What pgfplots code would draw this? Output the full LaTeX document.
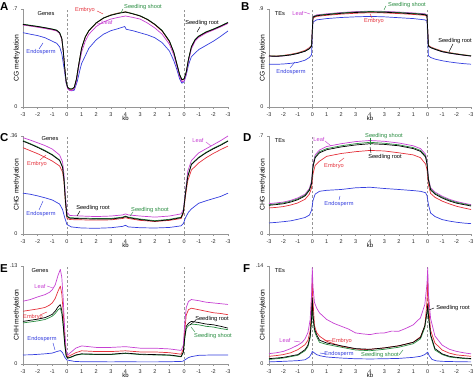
\documentclass[border=0pt]{standalone}
\usepackage{fontspec}
\setmainfont{Liberation Sans}
\usepackage{pgfplots}
\pgfplotsset{compat=1.18}
\definecolor{cEmb}{RGB}{228,48,58}
\definecolor{cLeaf}{RGB}{198,64,210}
\definecolor{cShoot}{RGB}{40,140,64}
\definecolor{cEndo}{RGB}{52,62,222}
\definecolor{axg}{RGB}{150,150,150}
\tikzset{vline/.style={axg, dash pattern=on 2.5bp off 2bp, line width=0.5bp}}
\pgfplotsset{
  panel/.style={
    scale only axis, width=205bp, height=98bp, anchor=south west,
    xmin=0, xmax=14, ymin=0,
    axis x line*=bottom, axis y line*=left,
    axis line style={axg, line width=0.5bp},
    xtick={0,...,14},
    xticklabels={-3,-2,-1,0,1,2,3,4,3,2,1,0,-1,-2,-3},
    tick style={axg, line width=0.4bp},
    major tick length=2bp, tick align=outside,
    tick label style={font=\fontsize{5.5}{6}\selectfont, text=black!85},
    xlabel={kb},
    every axis x label/.style={at={(rel axis cs:0.5,-0.118)}, anchor=center, font=\fontsize{6}{7}\selectfont},
    every axis y label/.style={at={(rel axis cs:-0.03,0.5)}, anchor=center, rotate=90, font=\fontsize{6.8}{8}\selectfont},
    every axis plot/.append style={line width=0.7bp, line join=round},
    clip=false,
  },
  rpanel/.style={panel, width=202bp, every axis y label/.style={at={(rel axis cs:-0.03,0.5)}, anchor=center, rotate=90, font=\fontsize{6.8}{8}\selectfont}},
}
\begin{document}
\begin{tikzpicture}
\path[use as bounding box] (0,0) rectangle (474bp,390bp);

% ---------------- A: CG genes
\begin{axis}[panel, at={(23bp,283bp)}, ymax=0.7, ytick={0,0.7}, yticklabels={0,.7}, ylabel={CG methylation}]
\draw[vline] (axis cs:3,0) -- (axis cs:3,0.7);
\draw[vline] (axis cs:11,0) -- (axis cs:11,0.7);
\addplot[cEndo] coordinates {(0,.531)(0.5,.52)(1,.51)(1.5,.495)(2,.47)(2.3,.455)(2.5,.43)(2.65,.38)(2.8,.28)(2.95,.17)(3.1,.125)(3.3,.115)(3.5,.12)(3.7,.18)(3.9,.27)(4,.31)(4.5,.42)(5,.48)(5.5,.52)(6,.545)(6.5,.56)(6.95,.575)(7.05,.555)(7.5,.545)(8,.53)(8.5,.515)(9,.495)(9.5,.46)(10,.40)(10.3,.33)(10.5,.27)(10.7,.20)(10.85,.17)(11,.18)(11.15,.23)(11.3,.30)(11.5,.36)(12,.41)(12.5,.44)(13,.47)(13.5,.505)(14,.543)};
\addplot[cEmb] coordinates {(0,.588)(0.5,.580)(1,.572)(1.5,.563)(2,.553)(2.3,.545)(2.5,.527)(2.65,.487)(2.75,.397)(2.85,.277)(2.95,.177)(3.05,.138)(3.2,.127)(3.35,.127)(3.5,.139)(3.65,.198)(3.8,.298)(4,.418)(4.25,.498)(4.5,.544)(5,.600)(5.5,.636)(6,.658)(6.5,.671)(7,.680)(7.5,.666)(8,.650)(8.5,.624)(9,.588)(9.5,.542)(10,.466)(10.3,.386)(10.5,.306)(10.7,.226)(10.85,.192)(11,.197)(11.15,.246)(11.3,.336)(11.5,.426)(11.75,.477)(12,.502)(12.5,.532)(13,.552)(13.5,.575)(14,.600)};
\addplot[cLeaf] coordinates {(0,.586)(0.5,.578)(1,.570)(1.5,.561)(2,.551)(2.3,.543)(2.5,.525)(2.65,.485)(2.75,.395)(2.85,.275)(2.95,.172)(3.05,.13)(3.2,.118)(3.35,.118)(3.5,.13)(3.65,.18)(3.8,.28)(4,.39)(4.25,.47)(4.5,.52)(5,.575)(5.5,.608)(6,.628)(6.5,.640)(7,.650)(7.5,.640)(8,.628)(8.5,.600)(9,.565)(9.5,.520)(10,.448)(10.3,.37)(10.5,.295)(10.7,.215)(10.85,.18)(11,.185)(11.15,.235)(11.3,.325)(11.5,.415)(11.75,.47)(12,.497)(12.5,.528)(13,.55)(13.5,.572)(14,.597)};
\addplot[cShoot] coordinates {(0,.592)(0.5,.584)(1,.576)(1.5,.567)(2,.557)(2.3,.549)(2.5,.532)(2.65,.49)(2.75,.40)(2.85,.28)(2.95,.18)(3.05,.14)(3.2,.13)(3.35,.13)(3.5,.142)(3.65,.20)(3.8,.30)(4,.42)(4.25,.50)(4.5,.547)(5,.602)(5.5,.637)(6,.657)(6.5,.670)(7,.680)(7.5,.667)(8,.652)(8.5,.627)(9,.592)(9.5,.547)(10,.472)(10.3,.392)(10.5,.312)(10.7,.232)(10.85,.197)(11,.202)(11.15,.252)(11.3,.342)(11.5,.432)(11.75,.482)(12,.507)(12.5,.537)(13,.557)(13.5,.58)(14,.605)};
\addplot[black] coordinates {(0,.590)(0.5,.582)(1,.575)(1.5,.566)(2,.556)(2.3,.548)(2.5,.530)(2.65,.49)(2.75,.40)(2.85,.28)(2.95,.18)(3.05,.14)(3.2,.128)(3.35,.128)(3.5,.14)(3.65,.20)(3.8,.30)(4,.42)(4.25,.50)(4.5,.545)(5,.600)(5.5,.635)(6,.655)(6.5,.668)(7,.678)(7.5,.665)(8,.650)(8.5,.625)(9,.590)(9.5,.545)(10,.47)(10.3,.39)(10.5,.31)(10.7,.23)(10.85,.195)(11,.20)(11.15,.25)(11.3,.34)(11.5,.43)(11.75,.48)(12,.505)(12.5,.535)(13,.555)(13.5,.578)(14,.603)};
\end{axis}

% ---------------- B: CG TEs
\begin{axis}[rpanel, at={(269bp,283bp)}, ymax=0.9, ytick={0,0.9}, yticklabels={0,.9}, ylabel={CG methylation}]
\draw[vline] (axis cs:3,0) -- (axis cs:3,0.9);
\draw[vline] (axis cs:11,0) -- (axis cs:11,0.9);
\addplot[cEndo] coordinates {(0,.393)(0.5,.392)(1,.395)(1.5,.401)(2,.41)(2.5,.43)(2.8,.455)(2.95,.48)(3,.65)(3.05,.78)(3.3,.80)(4,.812)(5,.822)(6,.828)(7,.832)(8,.828)(9,.820)(10,.812)(10.8,.80)(10.95,.79)(11,.62)(11.05,.47)(11.2,.455)(11.5,.44)(12,.425)(12.5,.414)(13,.405)(13.5,.398)(14,.393)};
\addplot[cEmb] coordinates {(0,.470)(0.5,.468)(1,.474)(1.5,.484)(2,.498)(2.5,.520)(2.8,.545)(2.95,.568)(3,.70)(3.05,.818)(3.3,.832)(4,.842)(5,.853)(6,.861)(7,.866)(8,.864)(9,.858)(10,.850)(10.8,.842)(10.95,.832)(11,.70)(11.05,.568)(11.2,.552)(11.5,.536)(12,.514)(12.5,.500)(13,.489)(13.5,.479)(14,.471)};
\addplot[cLeaf] coordinates {(0,.466)(0.5,.464)(1,.469)(1.5,.478)(2,.492)(2.5,.513)(2.8,.537)(2.95,.562)(3,.71)(3.05,.832)(3.3,.846)(4,.856)(5,.868)(6,.876)(7,.880)(8,.878)(9,.872)(10,.864)(10.8,.856)(10.95,.846)(11,.71)(11.05,.562)(11.2,.546)(11.5,.530)(12,.507)(12.5,.494)(13,.484)(13.5,.475)(14,.467)};
\addplot[cShoot] coordinates {(0,.470)(0.5,.467)(1,.472)(1.5,.480)(2,.494)(2.5,.514)(2.8,.537)(2.95,.562)(3,.70)(3.05,.828)(3.3,.842)(4,.852)(5,.864)(6,.872)(7,.877)(8,.874)(9,.868)(10,.860)(10.8,.852)(10.95,.842)(11,.70)(11.05,.562)(11.2,.547)(11.5,.532)(12,.510)(12.5,.497)(13,.487)(13.5,.478)(14,.470)};
\addplot[black] coordinates {(0,.468)(0.5,.465)(1,.470)(1.5,.478)(2,.492)(2.5,.512)(2.8,.535)(2.95,.56)(3,.70)(3.05,.825)(3.3,.838)(4,.848)(5,.860)(6,.868)(7,.872)(8,.870)(9,.864)(10,.856)(10.8,.848)(10.95,.838)(11,.70)(11.05,.56)(11.2,.545)(11.5,.530)(12,.508)(12.5,.495)(13,.485)(13.5,.476)(14,.468)};
\end{axis}

% ---------------- C: CHG genes
\begin{axis}[panel, at={(23bp,156bp)}, ymax=0.36, ytick={0,0.36}, yticklabels={0,.36}, ylabel={CHG methylation}]
\draw[vline] (axis cs:3,0) -- (axis cs:3,0.36);
\draw[vline] (axis cs:11,0) -- (axis cs:11,0.36);
\addplot[cEndo] coordinates {(0,.150)(0.5,.146)(1,.140)(1.5,.133)(2,.125)(2.5,.110)(2.7,.09)(2.85,.06)(3,.035)(3.3,.026)(4,.022)(5,.021)(6,.023)(6.8,.028)(7,.032)(7.2,.026)(8,.023)(9,.022)(10,.024)(10.8,.030)(10.95,.038)(11.1,.06)(11.3,.08)(11.5,.092)(12,.113)(12.5,.122)(13,.130)(13.5,.138)(14,.150)};
\addplot[cEmb] coordinates {(0,.317)(0.5,.306)(1,.295)(1.5,.282)(2,.268)(2.5,.250)(2.7,.228)(2.8,.19)(2.9,.11)(3,.058)(3.2,.053)(4,.052)(5,.051)(6,.052)(6.8,.057)(7,.060)(7.2,.057)(8,.050)(9,.046)(10,.050)(10.8,.057)(10.95,.075)(11.1,.14)(11.25,.195)(11.5,.235)(12,.261)(12.5,.280)(13,.296)(13.5,.310)(14,.323)};
\addplot[cLeaf] coordinates {(0,.354)(0.5,.345)(1,.335)(1.5,.325)(2,.312)(2.5,.290)(2.7,.265)(2.8,.22)(2.9,.14)(3,.08)(3.2,.068)(4,.066)(5,.064)(6,.066)(6.8,.070)(7,.074)(7.2,.070)(8,.066)(9,.062)(10,.066)(10.8,.074)(10.95,.090)(11.1,.16)(11.25,.23)(11.5,.270)(12,.298)(12.5,.313)(13,.328)(13.5,.343)(14,.360)};
\addplot[cShoot] coordinates {(0,.343)(0.5,.332)(1,.320)(1.5,.307)(2,.292)(2.5,.272)(2.7,.247)(2.8,.202)(2.9,.122)(3,.066)(3.2,.060)(4,.058)(5,.057)(6,.057)(6.8,.062)(7,.066)(7.2,.062)(8,.055)(9,.049)(10,.054)(10.8,.062)(10.95,.082)(11.1,.152)(11.25,.212)(11.5,.257)(12,.282)(12.5,.300)(13,.315)(13.5,.328)(14,.343)};
\addplot[black] coordinates {(0,.341)(0.5,.330)(1,.318)(1.5,.305)(2,.290)(2.5,.270)(2.7,.245)(2.8,.20)(2.9,.12)(3,.064)(3.2,.058)(4,.056)(5,.055)(6,.055)(6.8,.060)(7,.064)(7.2,.060)(8,.053)(9,.047)(10,.052)(10.8,.060)(10.95,.080)(11.1,.15)(11.25,.21)(11.5,.255)(12,.280)(12.5,.298)(13,.313)(13.5,.326)(14,.341)};
\end{axis}

% ---------------- D: CHG TEs
\begin{axis}[rpanel, at={(269bp,156bp)}, ymax=0.7, ytick={0,0.7}, yticklabels={0,.7}, ylabel={CHG methylation}]
\draw[vline] (axis cs:3,0) -- (axis cs:3,0.7);
\draw[vline] (axis cs:11,0) -- (axis cs:11,0.7);
\addplot[cEndo] coordinates {(0,.079)(0.5,.083)(1,.088)(1.5,.094)(2,.105)(2.5,.118)(2.8,.135)(2.95,.17)(3.05,.24)(3.2,.285)(3.5,.305)(4,.312)(5,.318)(6,.330)(7,.334)(8,.325)(9,.318)(10,.310)(10.5,.305)(10.85,.295)(10.95,.275)(11.05,.21)(11.2,.15)(11.5,.125)(12,.103)(12.5,.092)(13,.084)(13.5,.078)(14,.074)};
\addplot[cEmb] coordinates {(0,.186)(0.5,.190)(1,.196)(1.5,.207)(2,.222)(2.5,.248)(2.8,.285)(2.95,.33)(3.05,.43)(3.2,.49)(3.5,.52)(4,.555)(5,.575)(6,.588)(7,.597)(8,.593)(9,.580)(10,.565)(10.5,.545)(10.85,.50)(10.95,.46)(11.05,.35)(11.2,.29)(11.5,.262)(12,.235)(12.5,.215)(13,.198)(13.5,.186)(14,.175)};
\addplot[cLeaf] coordinates {(0,.217)(0.5,.222)(1,.228)(1.5,.240)(2,.258)(2.5,.285)(2.8,.325)(2.95,.38)(3.05,.50)(3.2,.565)(3.5,.600)(4,.625)(5,.645)(6,.660)(7,.668)(8,.662)(9,.650)(10,.630)(10.5,.610)(10.85,.57)(10.95,.52)(11.05,.40)(11.2,.33)(11.5,.300)(12,.270)(12.5,.248)(13,.232)(13.5,.220)(14,.210)};
\addplot[cShoot] coordinates {(0,.210)(0.5,.215)(1,.222)(1.5,.234)(2,.251)(2.5,.278)(2.8,.318)(2.95,.367)(3.05,.487)(3.2,.552)(3.5,.588)(4,.610)(5,.630)(6,.645)(7,.655)(8,.648)(9,.637)(10,.617)(10.5,.597)(10.85,.557)(10.95,.507)(11.05,.392)(11.2,.322)(11.5,.291)(12,.263)(12.5,.242)(13,.226)(13.5,.215)(14,.205)};
\addplot[black] coordinates {(0,.205)(0.5,.210)(1,.216)(1.5,.228)(2,.245)(2.5,.272)(2.8,.312)(2.95,.36)(3.05,.48)(3.2,.545)(3.5,.58)(4,.602)(5,.622)(6,.636)(7,.645)(8,.640)(9,.630)(10,.610)(10.5,.59)(10.85,.55)(10.95,.50)(11.05,.385)(11.2,.315)(11.5,.285)(12,.257)(12.5,.236)(13,.220)(13.5,.210)(14,.200)};
\end{axis}

% ---------------- E: CHH genes
\begin{axis}[panel, at={(23bp,26bp)}, ymax=0.13, ytick={0,0.13}, yticklabels={0,.13}, ylabel={CHH methylation}]
\draw[vline] (axis cs:3,0) -- (axis cs:3,0.13);
\draw[vline] (axis cs:11,0) -- (axis cs:11,0.13);
\addplot[cEndo] coordinates {(0,.012)(0.5,.0122)(1,.0128)(1.5,.0135)(2,.0145)(2.3,.0165)(2.55,.0178)(2.7,.015)(2.85,.009)(3,.0053)(3.5,.0035)(4,.003)(5,.003)(6,.0028)(7,.003)(8,.0028)(9,.0028)(10,.003)(10.9,.0035)(11.1,.006)(11.3,.0085)(11.5,.0098)(12,.0115)(13,.012)(14,.012)};
\addplot[cEmb] coordinates {(0,.070)(0.5,.0715)(1,.073)(1.5,.075)(1.8,.078)(2,.081)(2.2,.087)(2.4,.097)(2.55,.1033)(2.65,.093)(2.75,.068)(2.85,.035)(2.95,.013)(3.05,.0098)(3.3,.012)(3.6,.015)(4,.0175)(5,.0165)(6,.0165)(7,.0175)(8,.016)(9,.016)(10,.015)(10.8,.013)(10.95,.02)(11.05,.045)(11.15,.065)(11.3,.072)(11.5,.074)(12,.072)(12.5,.070)(13,.068)(13.5,.067)(14,.0654)};
\addplot[cLeaf] coordinates {(0,.0833)(0.5,.0855)(1,.089)(1.5,.092)(1.8,.095)(2,.0985)(2.2,.105)(2.4,.118)(2.55,.1255)(2.65,.115)(2.75,.085)(2.85,.045)(2.95,.018)(3.05,.012)(3.3,.016)(3.6,.021)(4,.024)(5,.022)(6,.022)(7,.023)(8,.021)(9,.021)(10,.020)(10.8,.018)(10.95,.025)(11.05,.055)(11.15,.075)(11.3,.083)(11.5,.0855)(12,.084)(12.5,.082)(13,.081)(13.5,.080)(14,.079)};
\addplot[cShoot] coordinates {(0,.0545)(0.5,.0558)(1,.0572)(1.5,.059)(1.8,.0615)(2,.0635)(2.2,.067)(2.4,.072)(2.55,.074)(2.65,.067)(2.75,.049)(2.85,.025)(2.95,.010)(3.05,.0075)(3.3,.009)(3.6,.0115)(4,.013)(5,.0125)(6,.0125)(7,.014)(8,.0125)(9,.012)(10,.0115)(10.8,.0095)(10.95,.015)(11.05,.034)(11.15,.047)(11.3,.051)(11.5,.053)(12,.052)(12.5,.050)(13,.049)(13.5,.047)(14,.0455)};
\addplot[black] coordinates {(0,.0565)(0.5,.058)(1,.0595)(1.5,.0615)(1.8,.064)(2,.066)(2.2,.070)(2.4,.076)(2.55,.0788)(2.65,.071)(2.75,.052)(2.85,.027)(2.95,.011)(3.05,.008)(3.3,.0095)(3.6,.012)(4,.0135)(5,.013)(6,.013)(7,.0145)(8,.013)(9,.0125)(10,.012)(10.8,.010)(10.95,.016)(11.05,.036)(11.15,.050)(11.3,.054)(11.5,.0565)(12,.055)(12.5,.053)(13,.052)(13.5,.050)(14,.0476)};
\end{axis}

% ---------------- F: CHH TEs
\begin{axis}[rpanel, at={(269bp,26bp)}, ymax=0.14, ytick={0,0.14}, yticklabels={0,.14}, ylabel={CHH methylation}]
\draw[vline] (axis cs:3,0) -- (axis cs:3,0.14);
\draw[vline] (axis cs:11,0) -- (axis cs:11,0.14);
\addplot[cEndo] coordinates {(0,.003)(1,.0038)(2,.0048)(2.5,.006)(2.8,.010)(2.95,.015)(3,.018)(3.1,.0165)(3.3,.0134)(3.6,.0115)(4,.010)(5,.0085)(6,.0075)(7,.0072)(8,.0075)(9,.008)(10,.0095)(10.5,.011)(10.8,.0135)(11,.017)(11.1,.012)(11.3,.0065)(11.6,.0045)(12,.0038)(13,.0033)(14,.003)};
\addplot[cEmb] coordinates {(0,.011)(0.5,.012)(1,.0135)(1.5,.016)(2,.0205)(2.5,.0277)(2.7,.034)(2.85,.047)(2.95,.08)(3,.123)(3.05,.09)(3.15,.055)(3.3,.045)(3.5,.0397)(4,.0325)(5,.0253)(6,.0215)(6.5,.0205)(7,.021)(7.5,.022)(8,.023)(9,.026)(10,.031)(10.5,.039)(10.8,.054)(10.95,.09)(11,.123)(11.05,.085)(11.2,.048)(11.5,.030)(12,.020)(12.5,.0155)(13,.013)(13.5,.012)(14,.011)};
\addplot[cLeaf] coordinates {(0,.0148)(0.5,.016)(1,.018)(1.5,.022)(2,.027)(2.3,.031)(2.5,.036)(2.7,.045)(2.85,.063)(2.95,.10)(3,.1376)(3.05,.11)(3.15,.088)(3.3,.080)(3.5,.073)(4,.0636)(4.5,.058)(5,.054)(5.5,.050)(6,.0444)(6.5,.043)(7,.042)(7.5,.044)(8,.0444)(8.5,.047)(9,.0468)(9.5,.051)(10,.056)(10.5,.066)(10.8,.085)(10.95,.115)(11,.1376)(11.05,.10)(11.2,.065)(11.5,.040)(12,.027)(12.5,.021)(13,.018)(13.5,.016)(14,.0145)};
\addplot[cShoot] coordinates {(0,.0065)(0.5,.0075)(1,.0085)(1.5,.0105)(2,.0124)(2.5,.019)(2.7,.025)(2.85,.037)(2.95,.06)(3,.088)(3.05,.065)(3.15,.047)(3.3,.039)(3.5,.031)(4,.028)(5,.024)(6,.020)(7,.019)(8,.021)(9,.024)(10,.029)(10.5,.036)(10.8,.052)(10.95,.072)(11,.082)(11.05,.067)(11.2,.040)(11.5,.020)(12,.0135)(12.5,.010)(13,.0088)(13.5,.0078)(14,.0072)};
\addplot[black] coordinates {(0,.0076)(0.5,.0085)(1,.0095)(1.5,.0115)(2,.0134)(2.5,.0205)(2.7,.027)(2.85,.040)(2.95,.065)(3,.0946)(3.05,.07)(3.15,.05)(3.3,.042)(3.5,.034)(4,.030)(5,.026)(6,.022)(7,.021)(8,.023)(9,.026)(10,.031)(10.5,.038)(10.8,.055)(10.95,.075)(11,.085)(11.05,.07)(11.2,.042)(11.5,.022)(12,.0145)(12.5,.011)(13,.0095)(13.5,.0085)(14,.0078)};
\end{axis}

% ---------------- annotations (pixel coordinates, y downward)
\begin{scope}[yshift=390bp, x=1bp, y=-1bp,
  lab/.style={font=\fontsize{5.7}{6.5}\selectfont, inner sep=0pt},
  ldr/.style={line width=0.45bp},
  pl/.style={font=\fontsize{11.5}{12}\selectfont\bfseries, inner sep=0pt, anchor=north west}]
\node[pl] at (0,2) {A};
\node[pl] at (241,2) {B};
\node[pl] at (0,133) {C};
\node[pl] at (243,133) {D};
\node[pl] at (0,264) {E};
\node[pl] at (243,264) {F};
% A
\node[lab] at (46,14) {Genes};
\node[lab,text=cEmb] at (85,10) {Embryo}; \draw[ldr,cEmb] (97,11)--(103,14);
\node[lab,text=cShoot] at (143,7) {Seedling shoot}; \draw[ldr,cShoot] (123,9)--(121,13);
\node[lab,text=cLeaf] at (107,22) {Leaf}; \draw[ldr,cLeaf] (102,23)--(97,24);
\node[lab] at (202,23) {Seedling root}; \draw[ldr] (200,27)--(197,32);
\node[lab,text=cEndo] at (41,52) {Endosperm}; \draw[ldr,cEndo] (39,49)--(43,43);
% B
\node[lab] at (280,14) {TEs};
\node[lab,text=cLeaf] at (298,13) {Leaf}; \draw[ldr,cLeaf] (304,12)--(310,14);
\node[lab,text=cShoot] at (407,5) {Seedling shoot}; \draw[ldr,cShoot] (386,6)--(384,10);
\node[lab,text=cEmb] at (374,21) {Embryo}; \draw[ldr,cEmb] (372,18)--(370,14);
\node[lab] at (455,41) {Seedling root}; \draw[ldr] (453,44)--(449,52);
\node[lab,text=cEndo] at (291,72) {Endosperm}; \draw[ldr,cEndo] (290,68)--(295,62);
% C
\node[lab] at (50,139) {Genes};
\node[lab,text=cLeaf] at (198,140) {Leaf}; \draw[ldr,cLeaf] (206,142)--(211,146);
\node[lab,text=cEmb] at (37,164) {Embryo}; \draw[ldr,cEmb] (40,160)--(46,155);
\node[lab,text=cEndo] at (41,214) {Endosperm}; \draw[ldr,cEndo] (39,210)--(43,201);
\node[lab] at (93,208) {Seedling root}; \draw[ldr] (80,211)--(77,216);
\node[lab,text=cShoot] at (150,210) {Seedling shoot}; \draw[ldr,cShoot] (133,212)--(130,216);
% D
\node[lab] at (280,141) {TEs};
\node[lab,text=cLeaf] at (319,139) {Leaf}; \draw[ldr,cLeaf] (325,141)--(331,146);
\node[lab,text=cShoot] at (384,136) {Seedling shoot}; \draw[ldr,cShoot] (370,138)--(370,145);
\node[lab] at (385,157) {Seedling root}; \draw[ldr] (371,153)--(370,147);
\node[lab,text=cEmb] at (334,166) {Embryo}; \draw[ldr,cEmb] (339,162)--(344,158);
\node[lab,text=cEndo] at (339,204) {Endosperm}; \draw[ldr,cEndo] (339,200)--(340,196);
% E
\node[lab] at (40,271) {Genes};
\node[lab,text=cLeaf] at (40,286) {Leaf}; \draw[ldr,cLeaf] (47,286)--(53,288);
\node[lab,text=cEmb] at (33,317) {Embryo}; \draw[ldr,cEmb] (40,315)--(47,312);
\node[lab,text=cEndo] at (42,339) {Endosperm}; \draw[ldr,cEndo] (53,343)--(55,350);
\node[lab] at (212,319) {Seedling root}; \draw[ldr] (196,320)--(190,325);
\node[lab,text=cShoot] at (213,336) {Seedling shoot}; \draw[ldr,cShoot] (195,332)--(191,327);
% F
\node[lab] at (280,271) {TEs};
\node[lab,text=cLeaf] at (285,340) {Leaf}; \draw[ldr,cLeaf] (294,341)--(300,342);
\node[lab,text=cEmb] at (342,341) {Embryo}; \draw[ldr,cEmb] (332,341)--(324,340);
\node[lab,text=cEndo] at (339,354) {Endosperm}; \draw[ldr,cEndo] (326,354)--(320,353);
\node[lab,text=cShoot] at (380,355) {Seedling shoot}; \draw[ldr,cShoot] (399,355)--(403,350);
\node[lab] at (453,308) {Seedling root}; \draw[ldr] (434,308)--(429,310);
\end{scope}
\end{tikzpicture}
\end{document}
